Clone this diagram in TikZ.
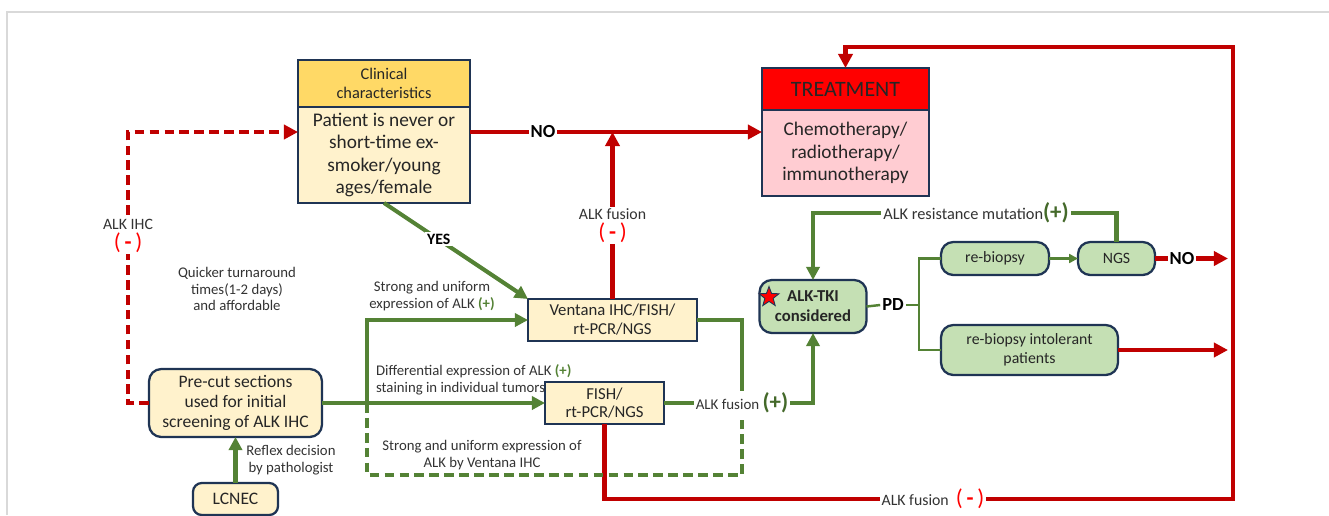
\documentclass[tikz,border=0pt]{standalone}
\usepackage{fontspec}
\setmainfont{Carlito}
\usepackage{xcolor}
\definecolor{AlkRed}{HTML}{C00000}
\definecolor{AlkBright}{HTML}{FF0000}
\definecolor{AlkGreen}{HTML}{548235}
\definecolor{AlkDkGreen}{HTML}{44692A}
\definecolor{AlkNavy}{HTML}{1F3454}
\definecolor{AlkGold}{HTML}{FFD966}
\definecolor{AlkCream}{HTML}{FFF2CC}
\definecolor{AlkPink}{HTML}{FFCCD2}
\definecolor{AlkMint}{HTML}{C5E0B4}
\usetikzlibrary{positioning, arrows.meta, shapes.geometric}
\newcommand{\negsign}{\textcolor{AlkBright}{\fontsize{13}{13}\selectfont(\,\textbf{-}\,)}}
\newcommand{\possign}{\textcolor{AlkGreen}{\textbf{(+)}}}

\begin{document}
\begin{tikzpicture}[
    x=0.02cm, y=-0.02cm,
    font=\fontsize{10}{11.5}\selectfont,
    box/.style={draw=AlkNavy, line width=1.3pt, fill=AlkCream, align=center, inner sep=1pt, outer sep=0pt, text=black!85},
    rbox/.style={box, rounded corners=7pt},
    gbox/.style={rbox, fill=AlkMint},
    redline/.style={AlkRed, line width=2.3pt},
    redarrow/.style={redline, -{Triangle[length=8pt,width=8pt]}},
    reddash/.style={redarrow, dash pattern=on 5.5pt off 3pt},
    greenline/.style={AlkGreen, line width=2.3pt},
    greenarrow/.style={greenline, -{Triangle[length=7.5pt,width=7.5pt]}},
    greendash/.style={greenline, dash pattern=on 5.5pt off 3pt},
    thingreen/.style={AlkGreen, line width=1.4pt},
    lbl/.style={text=black!80, font=\fontsize{8.4}{9.5}\selectfont, align=center, inner sep=1pt},
    cutlbl/.style={lbl, fill=white},
    boldlbl/.style={text=black, font=\bfseries\fontsize{10.5}{12}\selectfont, fill=white, inner sep=1pt}
]
    \useasboundingbox (0,0) rectangle (1329,515);
    \draw[black!15, line width=0.8pt] (7,515) -- (7,12) -- (1329,12);

    % 1. BOXES
    \node[box, fill=AlkGold, minimum width=3.44cm, minimum height=0.94cm, font=\fontsize{9.3}{10.8}\selectfont] (clinHead) at (384,83.5) {Clinical\\characteristics};
    \node[box, minimum width=3.44cm, minimum height=1.92cm, below=0pt of clinHead, font=\fontsize{11}{12.6}\selectfont] (clinBody) {Patient is never or\\short-time ex-\\smoker/young\\ages/female};

    \node[box, fill=AlkBright, minimum width=3.34cm, minimum height=0.84cm, font=\fontsize{12.5}{14}\selectfont] (treatHead) at (845.5,89) {TREATMENT};
    \node[box, fill=AlkPink, minimum width=3.34cm, minimum height=1.72cm, below=0pt of treatHead, font=\fontsize{11}{13}\selectfont] (treatBody) {Chemotherapy/\\radiotherapy/\\immunotherapy};

    \node[box, minimum width=3.38cm, minimum height=0.84cm, font=\fontsize{9.5}{10.8}\selectfont] (ventana) at (612.5,320) {Ventana IHC/FISH/\\rt-PCR/NGS};
    \node[box, minimum width=2.38cm, minimum height=0.84cm, font=\fontsize{9.5}{10.5}\selectfont] (fish) at (604.5,403) {FISH/\\rt-PCR/NGS};
    \node[rbox, minimum width=3.46cm, minimum height=1.36cm, font=\fontsize{10}{11.4}\selectfont] (precut) at (235.5,403) {Pre-cut sections\\used for initial\\screening of ALK IHC};
    \node[rbox, rounded corners=5pt, minimum width=1.7cm, minimum height=0.64cm] (lcnec) at (235.5,499) {LCNEC};

    \node[gbox, minimum width=2.14cm, minimum height=1.06cm, font=\bfseries\fontsize{9.5}{11.3}\selectfont] (tki) at (813,306.5) {ALK-TKI\\considered};
    \node[star, star points=5, star point ratio=2.4, fill=AlkBright, draw=AlkNavy, line width=0.5pt, minimum size=0.42cm, inner sep=0pt] (tkiStar) at (769,297) {};
    \node[gbox, minimum width=2.16cm, minimum height=0.66cm, font=\fontsize{9}{10.5}\selectfont] (rebiopsy) at (995,258.5) {re-biopsy};
    \node[gbox, minimum width=1.54cm, minimum height=0.66cm, font=\fontsize{9}{10.5}\selectfont] (ngs) at (1116.5,258.5) {NGS};
    \node[gbox, minimum width=3.54cm, minimum height=1.0cm, font=\fontsize{9}{10.8}\selectfont] (intol) at (1029.5,350) {re-biopsy intolerant\\patients};

    % 2. JUNCTION LABELS
    \node[lbl, fill=white, font=\fontsize{8.5}{10}\selectfont] (fuse) at (742,403) {ALK fusion \textcolor{AlkDkGreen}{\fontsize{13}{13}\selectfont\textbf{(+)}}};
    \node[lbl, fill=white, font=\fontsize{9.3}{11}\selectfont] (resist) at (976,213) {ALK resistance mutation\textcolor{AlkDkGreen}{\fontsize{13}{13}\selectfont\textbf{(+)}}};
    \node[boldlbl] (pd) at (893,305) {PD};

    \coordinate (noRow) at (0,132);
    \coordinate (ihcX) at (128,0);
    \coordinate (split) at (367,403);
    \coordinate (pdSplit) at (919,305);
    \coordinate (noEnd) at (1228,258.5);
    \coordinate (loopBR) at (1233,499);
    \coordinate (loopTR) at (1233,47);

    % 3. RED PATHS
    \draw[redarrow] (clinBody.east |- noRow) -- node[boldlbl, pos=0.25] (noLbl) {NO} (treatBody.west |- noRow);
    \draw[redarrow] (ventana.north) -- node[cutlbl, pos=0.44, font=\fontsize{9}{11}\selectfont] (fusionUp) {ALK fusion\\\negsign} (ventana.north |- noRow);
    \draw[reddash] (precut.west) -- (precut.west -| ihcX) |- (clinBody.west |- noRow);
    \node[cutlbl, font=\fontsize{9}{11}\selectfont] (ihcLbl) at (128,236) {ALK IHC\\\negsign};
    \draw[redarrow] (fish.south) |- (loopBR) -- (loopTR) -| (treatHead.north);
    \node[cutlbl, font=\fontsize{9}{11}\selectfont] (fusionDown) at (933,499) {ALK fusion \ \negsign};
    \draw[redarrow] (ngs.east) -- node[boldlbl, pos=0.37] (ngsNo) {NO} (noEnd);
    \draw[redarrow] (intol.east) -- (intol.east -| noEnd);

    % 4. GREEN PATHS
    \draw[greenarrow] (clinBody.south) -- node[boldlbl, pos=0.38, font=\bfseries\fontsize{9}{10}\selectfont] (yesLbl) {YES} (ventana.north west);
    \draw[greenarrow] (lcnec.north) -- (precut.south);
    \draw[greenarrow] (precut.east) -- (fish.west);
    \draw[greenarrow] (split) -- (split |- ventana.west) -- (ventana.west);
    \draw[greendash] (split) -- ++(0,72) -| (fuse.south);
    \draw[greenline] (ventana.east) -| (fuse.north);
    \draw[greenline] (fish.east) -- (fuse.west);
    \draw[greenarrow] (fuse.east) -| (tki.south);
    \draw[greenarrow] (resist.west) -| (tki.north);
    \draw[greenline] (ngs.north) |- (resist.east);
    \draw[thingreen] (tki.east) -- (pd.west);
    \draw[thingreen] (pd.east) -- (pdSplit) |- (rebiopsy.west);
    \draw[thingreen] (pdSplit) |- (intol.west);
    \draw[thingreen, -{Triangle[length=5pt,width=5pt]}] (rebiopsy.east) -- (ngs.west);

    % 5. SIDE NOTES
    \node[lbl] (quick) at (237,289) {Quicker turnaround\\times(1-2 days)\\and affordable};
    \node[lbl] (reflex) at (291,460) {Reflex decision\\by pathologist};
    \node[lbl] (strongTop) at (432,296) {Strong and uniform\\expression of ALK \possign};
    \node[lbl, anchor=west, align=left] (diffLbl) at (374,380) {Differential expression of ALK \possign\\staining in individual tumors};
    \node[lbl] (strongLow) at (482,455) {Strong and uniform expression of\\ALK by Ventana IHC};
\end{tikzpicture}
\end{document}
